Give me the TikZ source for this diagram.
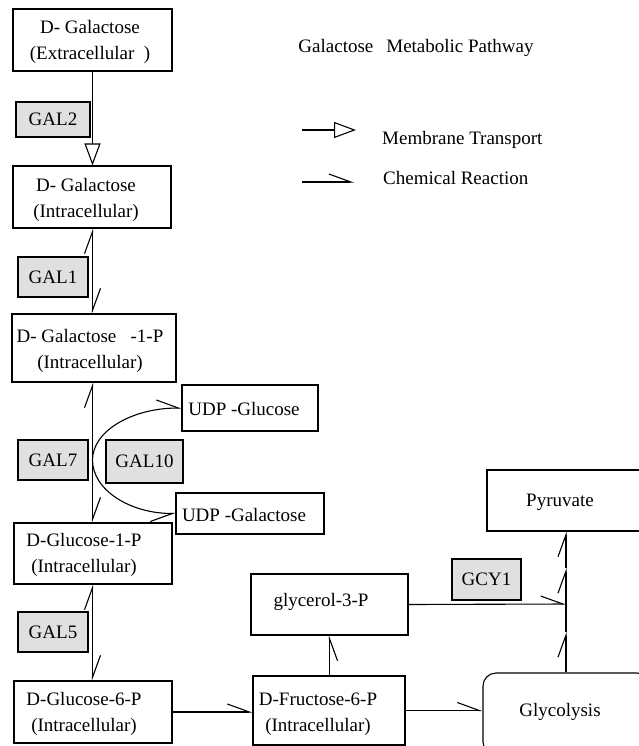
\documentclass[tikz,border=0pt]{standalone}
\usepackage{fontspec}
\setmainfont{Liberation Serif}
\usetikzlibrary{arrows.meta}
\definecolor{enzgray}{HTML}{E0E0E0}
\tikzset{
  every node/.style={font=\fontsize{19}{26}\selectfont, inner sep=0pt},
  box/.style={draw, line width=1.1pt, fill=white},
  enz/.style={draw, line width=1.1pt, fill=enzgray},
  txt/.style={align=center},
  conn/.style={line width=1.1pt},
  hb/.tip={Straight Barb[harpoon, length=22pt, width=16pt, line width=1.1pt]},
  hbs/.tip={Straight Barb[harpoon, swap, length=22pt, width=16pt, line width=1.1pt]},
  tri/.tip={Triangle[open, length=22pt, width=16pt, fill=white, line width=1.1pt]},
}
\begin{document}
\begin{tikzpicture}[x=1pt, y=-1pt]
\useasboundingbox (0,0) rectangle (639,746);
% main boxes
\node[box, minimum width=159pt, minimum height=62pt] (ext) at (92.5,40) {};
\node[txt] (extT) at (90,42) {D- Galactose\\(Extracellular\ \ )};
\node[box, minimum width=158pt, minimum height=62pt] (intra) at (92,197) {};
\node[txt] (intraT) at (86,200) {D- Galactose\\(Intracellular)};
\node[box, minimum width=164pt, minimum height=68pt] (gal1p) at (94,348) {};
\node[txt] (gal1pT) at (90,351) {D- Galactose\ \ \ -1-P\\(Intracellular)};
\node[box, minimum width=136pt, minimum height=46pt] (udpglc) at (250,408) {};
\node[txt] (udpglcT) at (244,409) {UDP -Glucose};
\node[box, minimum width=148pt, minimum height=41pt] (udpgal) at (250,513.5) {};
\node[txt] (udpgalT) at (244,515) {UDP -Galactose};
\node[box, minimum width=158pt, minimum height=61pt] (g1p) at (93,553.5) {};
\node[txt] (g1pT) at (84,555) {D-Glucose-1-P\\(Intracellular)};
\node[box, minimum width=158pt, minimum height=62pt] (g6p) at (93,712) {};
\node[txt] (g6pT) at (84,714) {D-Glucose-6-P\\(Intracellular)};
\node[box, minimum width=152pt, minimum height=69pt] (f6p) at (329,710.5) {};
\node[txt] (f6pT) at (318,714) {D-Fructose-6-P\\(Intracellular)};
\node[box, minimum width=157pt, minimum height=61pt] (g3p) at (329.5,604.5) {};
\node[txt] (g3pT) at (321,602) {glycerol-3-P};
\node[box, minimum width=154pt, minimum height=61pt] (pyr) at (564,500.5) {};
\node[txt] (pyrT) at (560,502) {Pyruvate};
\node[box, rounded corners=13pt, minimum width=167pt, minimum height=82pt] (glyc) at (566.5,714) {};
\node[txt] (glycT) at (560,712) {Glycolysis};
% enzymes
\node[enz, minimum width=74pt, minimum height=35pt] (gal2) at (53,119.5) {GAL2};
\node[enz, minimum width=70pt, minimum height=40pt] (gal1) at (53,277) {GAL1};
\node[enz, minimum width=70pt, minimum height=40pt] (gal7) at (53,460) {GAL7};
\node[enz, minimum width=77pt, minimum height=43pt] (gal10) at (144.5,461.5) {GAL10};
\node[enz, minimum width=70pt, minimum height=40pt] (gal5) at (53,632) {GAL5};
\node[enz, minimum width=69pt, minimum height=41pt] (gcy1) at (486.5,579.5) {GCY1};
% legend
\node[anchor=base] (title) at (416,53) {Galactose\hspace{13pt}Metabolic Pathway};
\node[anchor=base west] (lmt) at (382,145) {Membrane Transport};
\node[anchor=base west] (lcr) at (383,184) {Chemical Reaction};
\coordinate (lm1) at (302,130);
\coordinate (lm2) at (356,130);
\coordinate (lc1) at (302,182);
\coordinate (lc2) at (354,182);
\draw[conn, -tri] (lm1) -- (lm2);
\draw[conn, -hb] (lc1) -- (lc2);
% connectors
\coordinate (col) at (92.5,0);
\coordinate (jn) at (566,604);
\coordinate (c1) at (566,632);
\coordinate (c2) at (566,568);
\coordinate (arcl) at (92.5,460);
\draw[conn, -tri] (ext.south -| col) -- (intra.north -| col);
\draw[conn, hb-hb] (intra.south -| col) -- (gal1p.north -| col);
\draw[conn, hb-hb] (gal1p.south -| col) -- (g1p.north -| col);
\draw[conn, hb-hb] (g1p.south -| col) -- (g6p.north -| col);
\draw[conn, -hb] (g6p.east) -- (g6p.east -| f6p.west);
\draw[conn, -hbs] (f6p.north -| g3p.south) -- (g3p.south);
\draw[conn, -hb] (f6p.east) -- (f6p.east -| glyc.west);
\draw[conn, -hb] (g3p.east) -- (jn);
\draw[conn, -hb] (glyc.north -| jn) -- (c1);
\draw[conn] (c1) -- (jn);
\draw[conn, -hb] (jn) -- (c2);
\draw[conn, -hb] (c2) -- (pyr.south -| jn);
\draw[conn, hb-hbs] (udpglc.west) .. controls (132,408) and (92.5,431) .. (arcl)
  .. controls (92.5,490) and (130,513.5) .. (udpgal.west);
\end{tikzpicture}
\end{document}
